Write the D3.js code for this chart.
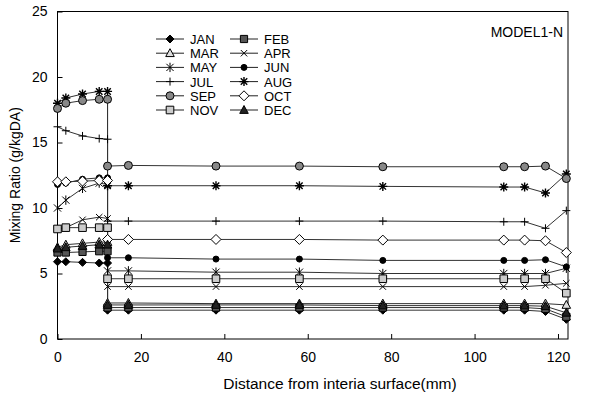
<!DOCTYPE html>
<html><head><meta charset="utf-8">
<script src="https://cdn.jsdelivr.net/npm/d3@7"></script>
<style>body{margin:0;background:#fff}svg{display:block}text{font-family:"Liberation Sans",Arial,sans-serif;fill:#000}</style>
</head><body><svg id="c" width="594" height="400"></svg>
<script>
const xs = [0, 2, 6, 10, 12, 12, 17, 38, 58, 78, 107, 112, 117, 122];
const months = ["JAN","FEB","MAR","APR","MAY","JUN","JUL","AUG","SEP","OCT","NOV","DEC"];
const jan = [5.9, 5.9, 5.85, 5.8, 5.8, 2.2, 2.2, 2.2, 2.2, 2.2, 2.2, 2.2, 2.1, 1.5];
const feb = [6.6, 6.6, 6.65, 6.7, 6.7, 2.4, 2.4, 2.4, 2.4, 2.4, 2.4, 2.4, 2.3, 1.7];
const mar = [7.0, 7.2, 7.3, 7.4, 7.4, 2.75, 2.75, 2.7, 2.7, 2.7, 2.7, 2.7, 2.7, 2.6];
const apr = [8.4, 8.5, 9.1, 9.3, 9.2, 4.0, 4.0, 4.0, 4.0, 4.0, 4.0, 4.0, 4.1, 4.25];
const may = [10.0, 10.6, 11.5, 11.9, 11.8, 5.2, 5.2, 5.1, 5.1, 5.0, 5.0, 5.0, 5.0, 5.4];
const jun = [11.8, 11.9, 12.2, 12.3, 12.3, 6.2, 6.2, 6.1, 6.1, 6.0, 6.0, 6.0, 6.05, 5.5];
const jul = [16.2, 15.9, 15.5, 15.3, 15.25, 9.0, 9.0, 9.0, 9.0, 9.0, 8.95, 8.95, 8.45, 9.8];
const aug = [18.0, 18.4, 18.7, 18.9, 18.9, 11.7, 11.7, 11.7, 11.7, 11.65, 11.6, 11.6, 11.15, 12.6];
const sep = [17.6, 18.0, 18.2, 18.3, 18.3, 13.2, 13.25, 13.2, 13.2, 13.15, 13.15, 13.15, 13.2, 12.25];
const oct = [12.0, 12.0, 12.05, 12.1, 12.1, 7.6, 7.6, 7.6, 7.6, 7.55, 7.55, 7.55, 7.5, 6.6];
const nov = [8.4, 8.5, 8.5, 8.5, 8.5, 4.6, 4.6, 4.6, 4.6, 4.6, 4.6, 4.6, 4.6, 3.5];
const dec = [6.9, 7.0, 7.1, 7.2, 7.2, 2.6, 2.6, 2.6, 2.6, 2.55, 2.55, 2.55, 2.5, 2.0];
const xTicks = [0, 20, 40, 60, 80, 100, 120];
const yTicks = [0, 5, 10, 15, 20, 25];
const xTitle = "Distance from interia surface(mm)";
const yTitle = "Mixing Ratio (g/kgDA)";
const modelLabel = "MODEL1-N";

const seriesVals = [jan, feb, mar, apr, may, jun, jul, aug, sep, oct, nov, dec];
const mk = [
  {t:"diamond", s:4, fill:"#000"},
  {t:"square", s:3.6, fill:"#555"},
  {t:"triangle", s:4.5, fill:"#ddd"},
  {t:"x", s:3.2},
  {t:"ast", s:3.6},
  {t:"circle", s:3, fill:"#000"},
  {t:"plus", s:4},
  {t:"star", s:4.5},
  {t:"circle", s:4, fill:"#888"},
  {t:"diamond", s:5, fill:"#fff"},
  {t:"square", s:3.8, fill:"#ccc"},
  {t:"triangle", s:4.5, fill:"#222"}
];
function path(t, s){
  switch(t){
    case "diamond": return `M0,${-s}L${s},0L0,${s}L${-s},0Z`;
    case "square": return `M${-s},${-s}H${s}V${s}H${-s}Z`;
    case "triangle": return `M0,${-s}L${s*0.95},${s*0.75}L${-s*0.95},${s*0.75}Z`;
    case "x": return `M${-s},${-s}L${s},${s}M${-s},${s}L${s},${-s}`;
    case "plus": return `M0,${-s}V${s}M${-s},0H${s}`;
    case "ast": return `M${-s},${-s}L${s},${s}M${-s},${s}L${s},${-s}M0,${-s*1.3}V${s*1.3}`;
    case "star": { const d=s*0.72; return `M${-d},${-d}L${d},${d}M${-d},${d}L${d},${-d}M0,${-s}V${s}M${-s},0H${s}`; }
    case "circle": return d3.symbol(d3.symbolCircle, Math.PI*s*s)();
  }
}
const svg = d3.select("#c");
const x = d3.scaleLinear().domain([0, 122.4]).range([57.5, 568]);
const y = d3.scaleLinear().domain([0, 25]).range([339, 11.5]);

svg.append("rect").attr("width",594).attr("height",400).attr("fill","#fff");

const gx = svg.append("g").attr("transform",`translate(0,${y(0)})`)
  .call(d3.axisBottom(x).tickValues(xTicks).tickSizeInner(-5).tickSizeOuter(0).tickPadding(13));
const gy = svg.append("g").attr("transform",`translate(${x(0)},0)`)
  .call(d3.axisLeft(y).tickValues(yTicks).tickSizeInner(-5).tickSizeOuter(0).tickPadding(10));
[gx, gy].forEach(g=>{
  g.select(".domain").remove();
  g.selectAll("line").attr("stroke","#000");
  g.selectAll("text").attr("font-size",14).attr("font-family","Liberation Sans, Arial, sans-serif");
});
svg.append("rect").attr("x",x(0)).attr("y",y(25)).attr("width",x(122.4)-x(0)).attr("height",y(0)-y(25))
  .attr("fill","none").attr("stroke","#000").attr("stroke-width",1);

svg.append("text").attr("x",340).attr("y",389).attr("text-anchor","middle")
  .attr("font-size",15.5).text(xTitle);
svg.append("text").attr("transform",`translate(20,${(y(0)+y(25))/2}) rotate(-90)`).attr("text-anchor","middle")
  .attr("font-size",14).text(yTitle);
svg.append("text").attr("x",563).attr("y",37).attr("text-anchor","end").attr("font-size",14).text(modelLabel);

const line = d3.line().x((d,i)=>x(xs[i])).y(d=>y(d));
const plot = svg.append("g");
seriesVals.forEach((vals,k)=>{
  plot.append("path").attr("d",line(vals)).attr("fill","none").attr("stroke","#333").attr("stroke-width",1);
});
function drawMarker(g, m, cx, cy){
  const open = (m.t==="x"||m.t==="plus"||m.t==="ast"||m.t==="star");
  g.append("path").attr("d",path(m.t,m.s)).attr("transform",`translate(${cx},${cy})`)
    .attr("fill", open ? "none" : m.fill).attr("stroke","#000")
    .attr("stroke-width", m.t==="star" ? 1.4 : 1);
}
seriesVals.forEach((vals,k)=>{
  vals.forEach((v,i)=> drawMarker(plot, mk[k], x(xs[i]), y(v)));
});

const lg = svg.append("g");
months.forEach((mName,k)=>{
  const col = k%2, row = Math.floor(k/2);
  const x0 = col===0 ? 156 : 230;
  const yy = 39 + row*14.2;
  lg.append("line").attr("x1",x0).attr("x2",x0+28).attr("y1",yy).attr("y2",yy).attr("stroke","#222");
  drawMarker(lg, mk[k], x0+14, yy);
  lg.append("text").attr("x",x0+34).attr("y",yy+5).attr("font-size",13).text(mName);
});
</script></body></html>
